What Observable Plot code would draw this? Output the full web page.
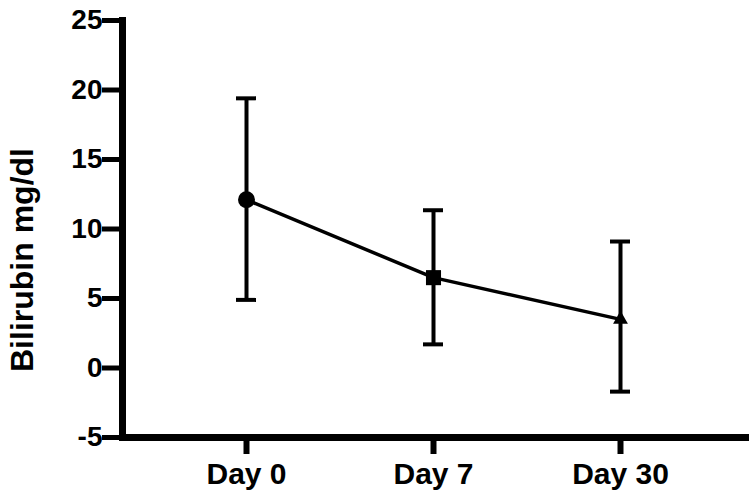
<!DOCTYPE html>
<html><head><meta charset="utf-8">
<script src="https://cdn.jsdelivr.net/npm/d3@7"></script>
<script src="https://cdn.jsdelivr.net/npm/@observablehq/plot@0.6"></script>
<style>body{margin:0;background:#fff} svg{display:block}</style>
</head><body><div id="chart"></div>
<script>
const days = ["Day 0", "Day 7", "Day 30"];
const means = [12.1, 6.5, 3.5];
const lows = [4.9, 1.7, -1.7];
const highs = [19.4, 11.35, 9.1];
const symbols = ["circle", "square", "triangle"];
const yTicks = [-5, 0, 5, 10, 15, 20, 25];
const yLabel = "Bilirubin mg/dl";

const data = days.map((d, i) => ({day: d, mean: means[i], lo: lows[i], hi: highs[i]}));
const font = "'Liberation Sans', Arial, Helvetica, sans-serif";
const capInset = 74;

const plot = Plot.plot({
  width: 754, height: 496,
  marginLeft: 122, marginRight: 9, marginTop: 20, marginBottom: 59,
  style: {fontFamily: font, fontWeight: "bold", color: "#000", background: "#fff", overflow: "visible"},
  x: {type: "band", domain: days, paddingInner: 0.1, paddingOuter: 0.209, label: null},
  y: {domain: [-5, 25], label: null},
  symbol: {domain: days, range: symbols},
  marks: [
    Plot.axisY({ticks: yTicks, tickFormat: d => String(d), tickSize: 20, tickPadding: 0, strokeWidth: 5, fontSize: 28, fontWeight: "bold", label: null}),
    Plot.axisX({tickSize: 17, tickPadding: 8, strokeWidth: 6, fontSize: 30, fontWeight: "bold", label: null}),
    Plot.frame({anchor: "left", strokeWidth: 7, strokeLinecap: "square"}),
    Plot.frame({anchor: "bottom", strokeWidth: 7, strokeLinecap: "square"}),
    Plot.ruleX(data, {x: "day", y1: "lo", y2: "hi", strokeWidth: 4}),
    Plot.tickY(data, {x: "day", y: "lo", strokeWidth: 4, insetLeft: capInset, insetRight: capInset}),
    Plot.tickY(data, {x: "day", y: "hi", strokeWidth: 4, insetLeft: capInset, insetRight: capInset}),
    Plot.line(data, {x: "day", y: "mean", strokeWidth: 3.5, stroke: "black"}),
    Plot.dot(data.slice(0, 2), {x: "day", y: "mean", symbol: "day", fill: "black", stroke: "none", r: 8.5}),
    Plot.dot(data.slice(2), {x: "day", y: "mean", symbol: "day", fill: "black", stroke: "none", r: 5.5})
  ]
});

d3.select(plot).append("text")
  .attr("transform", "translate(33,260) rotate(-90)")
  .attr("text-anchor", "middle")
  .attr("font-family", font)
  .attr("font-weight", "bold")
  .attr("font-size", 32)
  .attr("fill", "#000")
  .text(yLabel);

document.getElementById("chart").appendChild(plot);
</script>
</body></html>
